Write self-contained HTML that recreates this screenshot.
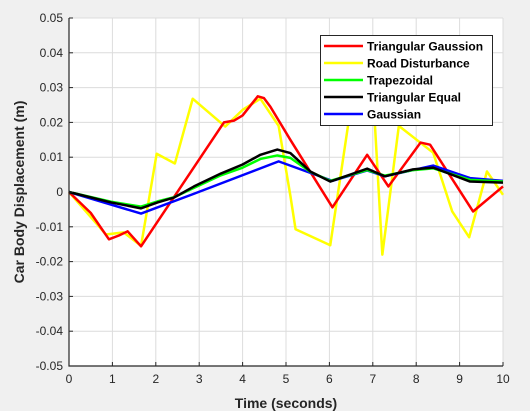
<!DOCTYPE html>
<html><head><meta charset="utf-8"><style>
body{margin:0;background:#f0f0f0;}
svg{display:block;font-family:"Liberation Sans","DejaVu Sans",sans-serif;}
</style></head><body>
<svg id="chart" width="530" height="411" viewBox="0 0 530 411" xmlns="http://www.w3.org/2000/svg">
<rect width="530" height="411" fill="#f0f0f0"/>
<rect x="69" y="18" width="434" height="348" fill="#fff"/>
<g id="grid"></g><g id="series"></g><g id="axes"></g>
<g id="legend"></g>
<text x="286" y="408" text-anchor="middle" font-size="14" font-weight="bold" fill="#262626">Time (seconds)</text>
<text transform="translate(24,192) rotate(-90)" text-anchor="middle" font-size="14" font-weight="bold" fill="#262626">Car Body Displacement (m)</text>
</svg>
<script>
const xTicks=[0,1,2,3,4,5,6,7,8,9,10];
const yTicks=[-0.05,-0.04,-0.03,-0.02,-0.01,0,0.01,0.02,0.03,0.04,0.05];
const yTickLabels=["-0.05","-0.04","-0.03","-0.02","-0.01","0","0.01","0.02","0.03","0.04","0.05"];
const seriesNames=["Triangular Gaussion","Road Disturbance","Trapezoidal","Triangular Equal","Gaussian"];
const seriesColors=["#ff0000","#ffff00","#00ff00","#000000","#0000ff"];
const redT=[0,0.5,0.92,1.15,1.35,1.66,3.57,3.8,4.0,4.35,4.49,4.64,5.1,6.07,6.87,7.36,8.1,8.32,9.31,10];
const redV=[0,-0.006,-0.0136,-0.0125,-0.0113,-0.0156,0.02,0.0205,0.022,0.0275,0.027,0.0245,0.015,-0.0044,0.0107,0.0016,0.0142,0.0136,-0.0056,0.0016];
const yelT=[0,0.85,1.26,1.66,2.02,2.44,2.85,3.6,4.0,4.41,4.83,5.1,5.22,6.02,6.44,6.7,7.0,7.22,7.6,8.39,8.83,9.22,9.63,10];
const yelV=[0,-0.0122,-0.0116,-0.0155,0.011,0.0082,0.0268,0.0188,0.0236,0.0268,0.019,-0.001,-0.0107,-0.0153,0.02,0.038,0.03,-0.018,0.019,0.0113,-0.0056,-0.013,0.0059,-0.0008];
const grnT=[0,0.97,1.66,2.04,2.42,2.88,3.5,4.0,4.41,4.8,5.1,5.56,6.02,6.87,7.28,7.93,8.39,9.24,10];
const grnV=[0,-0.0028,-0.0042,-0.0027,-0.0015,0.0012,0.0048,0.007,0.0095,0.0105,0.0098,0.0058,0.0032,0.0063,0.0047,0.0063,0.0068,0.0035,0.003];
const blkT=[0,0.97,1.66,2.04,2.42,2.88,3.5,4.0,4.41,4.8,5.1,5.56,6.02,6.87,7.28,7.93,8.39,9.24,10];
const blkV=[0,-0.003,-0.0047,-0.003,-0.0016,0.0016,0.0053,0.0079,0.0107,0.0122,0.0112,0.0059,0.003,0.0067,0.0045,0.0065,0.007,0.003,0.0027];
const bluT=[0,1.66,2.88,4.83,6.07,6.87,7.28,8.39,9.24,10];
const bluV=[0,-0.0062,-0.0005,0.0088,0.0032,0.0062,0.0045,0.0076,0.004,0.0032];
const X0=69,X1=503,Y0=366,Y1=18;
const sx=t=>X0+(t-0)/10*(X1-X0);
const sy=v=>Y0-(v+0.05)/0.1*(Y0-Y1);
const NS="http://www.w3.org/2000/svg";
function mk(tag,attrs,parent){const e=document.createElementNS(NS,tag);for(const k in attrs)e.setAttribute(k,attrs[k]);parent.appendChild(e);return e;}
const grid=document.getElementById('grid'),axes=document.getElementById('axes'),ser=document.getElementById('series'),leg=document.getElementById('legend');
xTicks.forEach(t=>{
 const l=mk('line',{x1:sx(t),x2:sx(t),y1:Y1,y2:Y0,stroke:'#dcdcdc','stroke-width':1},grid);
 
 
 const tk=mk('line',{x1:sx(t),x2:sx(t),y1:Y0,y2:Y0-4,stroke:'#262626'},axes);
 
 
 const tx=mk('text',{x:sx(t),y:Y0+17,'text-anchor':'middle','font-size':12,fill:'#262626'},axes);
 tx.textContent=t;
 
 
});
yTicks.forEach((v,i)=>{
 const l=mk('line',{x1:X0,x2:X1,y1:sy(v),y2:sy(v),stroke:'#dcdcdc','stroke-width':1},grid);
 
 
 const tk=mk('line',{x1:X0,x2:X0+4,y1:sy(v),y2:sy(v),stroke:'#262626'},axes);
 
 
 const tx=mk('text',{x:X0-6,y:sy(v)+4,'text-anchor':'end','font-size':12,fill:'#262626'},axes);
 tx.textContent=yTickLabels[i];
 
 
});
const al=mk('path',{d:`M${X0} ${Y1}V${Y0}H${X1}`,stroke:'#262626',fill:'none','stroke-width':1.2},axes);


const data=[[redT,redV],[yelT,yelV],[grnT,grnV],[blkT,blkV],[bluT,bluV]];
const order=[1,0,4,2,3];
order.forEach(i=>{
 const [T,V]=data[i];
 const p=mk('polyline',{points:T.map((t,j)=>sx(t)+','+sy(V[j])).join(' '),fill:'none',stroke:seriesColors[i],'stroke-width':2.5,'stroke-linejoin':'round'},ser);
 
 
});
const lb=mk('rect',{x:320.5,y:35.5,width:172,height:90,fill:'#fff',stroke:'#262626'},leg);


seriesNames.forEach((n,i)=>{
 const y=46+i*17;
 const ln=mk('line',{x1:324,x2:363,y1:y,y2:y,stroke:seriesColors[i],'stroke-width':2.5},leg);
 
 
 const tx=mk('text',{x:367,y:y+4.5,'font-size':12,'font-weight':'bold',fill:'#000'},leg);
 tx.textContent=n;
 
 
});
</script>
</body></html>
